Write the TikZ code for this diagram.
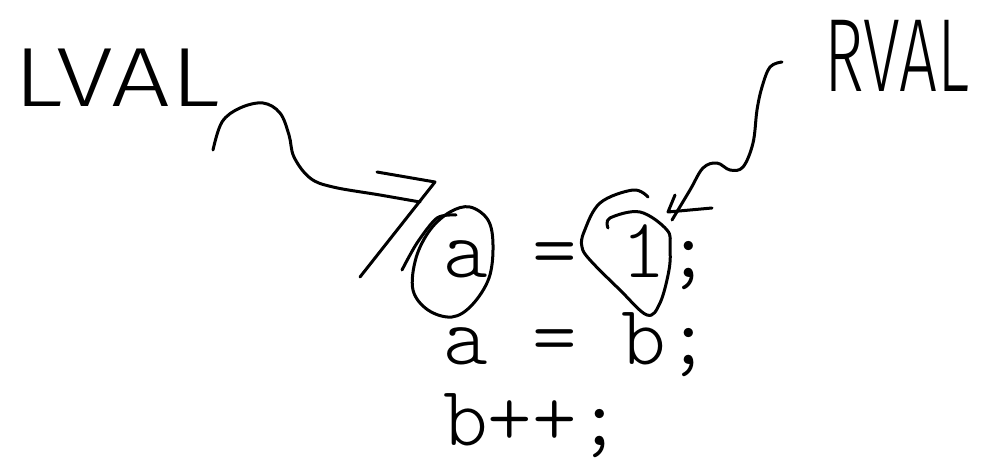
\documentclass[tikz,border=0pt]{standalone}
\usepackage{fontspec}
\usepackage{xcolor}
\definecolor{cInk}{HTML}{000000}
\newfontfamily\handfont{Fira Sans Light}
\newfontfamily\codefont{Latin Modern Mono Light}
\usepackage{tikz}
\usetikzlibrary{positioning,calc}
\tikzset{
  code-line/.style={anchor=base west,inner sep=0pt,
    font=\codefont\fontsize{85}{90}\selectfont},
  hand-label/.style={inner sep=0pt,text=cInk,
    font=\handfont\fontsize{80}{80}\selectfont},
  hand-stroke/.style={draw=cInk,line width=3pt,line cap=round,line join=round},
}

\begin{document}
\begin{tikzpicture}[x=1pt,y=-1pt]
  \useasboundingbox (0,0) rectangle (982,466);
  % the three statements
  \node[code-line] (line1) at (443,277) {a = 1;};
  \node[code-line] (line2) at (443,364) {a = b;};
  \node[code-line] (line3) at (443,445) {b++;};
  % scribbled labels
  \node[hand-label] (lval) at (117,78) {\scalebox{1.3}[1.05]{LVAL}};
  \node[hand-label] (rval) at (897,56) {\scalebox{0.84}[1.3]{RVAL}};
  % ends of the scribbled arrows
  \coordinate (lval-tail) at (213,150);
  \coordinate (lval-tip)  at (420,202);
  \coordinate (rval-tail) at (782,62);
  \coordinate (rval-tip)  at (672,220);
  % LVAL -> a
  \draw[hand-stroke] plot[smooth,tension=0.6] coordinates {(lval-tail) (222,122)
    (240,108) (263,103) (280,113) (289,135) (294,157) (310,178) (333,187)
    (380,195) (lval-tip)};
  \draw[hand-stroke] (377,172) -- (435,182) -- (360,277);
  \draw[hand-stroke] plot[smooth cycle,tension=0.6] coordinates {(470,207)
    (488,220) (493,245) (489,278) (472,305) (452,317) (428,310) (413,290)
    (416,258) (430,230) (450,212)};
  \draw[hand-stroke] plot[smooth] coordinates {(402,270) (417,243) (437,218)
    (456,215)};
  % RVAL -> 1
  \draw[hand-stroke] plot[smooth,tension=0.6] coordinates {(rval-tail) (770,67)
    (762,87) (757,110) (753,143) (743,167) (730,170) (717,163) (703,168)
    (690,190) (rval-tip)};
  \draw[hand-stroke] (675,195) -- (668,212) -- (712,208);
  \draw[hand-stroke] plot[smooth,tension=0.6] coordinates {(648,197) (633,190)
    (600,203) (584,232) (582,247) (590,260) (620,290) (647,315) (660,303)
    (669,270) (670,247) (667,230) (640,212) (610,218) (608,228)};
\end{tikzpicture}
\end{document}
